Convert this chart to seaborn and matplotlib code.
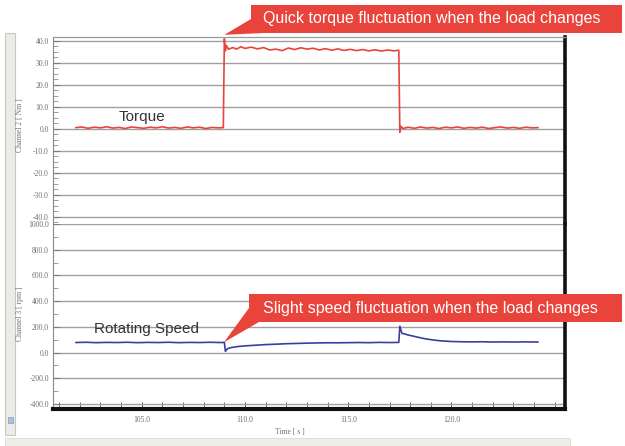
import numpy as np
import pandas as pd
import seaborn as sns
import matplotlib.pyplot as plt
from matplotlib.patches import Rectangle, Polygon
from matplotlib.ticker import MultipleLocator, FixedLocator, FormatStrFormatter

# Torque trace (Channel 2, Nm)
torque_t = [101.8, 102.1, 102.4, 102.7, 103.0, 103.3, 103.6, 103.9, 104.2, 104.5,
            104.8, 105.1, 105.4, 105.7, 106.0, 106.3, 106.6, 106.9, 107.2, 107.5,
            107.8, 108.1, 108.4, 108.7, 108.95,
            109.0, 109.05, 109.1, 109.2,
            109.4, 109.6, 109.8, 110.0, 110.3, 110.6, 110.9, 111.2, 111.5, 111.8,
            112.1, 112.4, 112.7, 113.0, 113.3, 113.6, 113.9, 114.2, 114.5, 114.8,
            115.1, 115.4, 115.7, 116.0, 116.3, 116.6, 116.9, 117.2, 117.45,
            117.5, 117.55, 117.65,
            117.9, 118.2, 118.5, 118.8, 119.1, 119.4, 119.7, 120.0, 120.3, 120.6,
            120.9, 121.2, 121.5, 121.8, 122.1, 122.4, 122.7, 123.0, 123.3, 123.6,
            123.9, 124.2]
torque_v = [0.6, 0.9, 0.3, 0.8, 0.5, 1.0, 0.4, 0.7, 0.2, 0.9,
            0.6, 0.3, 0.8, 0.5, 1.0, 0.4, 0.7, 0.3, 0.9, 0.5,
            0.8, 0.2, 0.7, 0.5, 0.6,
            41.0, 35.5, 38.0, 36.2,
            37.0, 36.3, 37.4, 36.6, 37.2, 36.4, 37.0, 35.9, 36.3, 35.6,
            36.8, 36.1, 36.9, 36.3, 36.7, 35.9, 36.5, 35.8, 36.4, 35.7,
            36.2, 35.6, 36.1, 35.5, 36.0, 35.4, 35.9, 35.5, 35.8,
            -1.5, 1.2, 0.2,
            0.8, 0.3, 0.9, 0.4, 0.7, 0.2, 0.8, 0.5, 0.9, 0.3,
            0.7, 0.4, 0.8, 0.2, 0.6, 0.9, 0.4, 0.7, 0.3, 0.8,
            0.5, 0.6]

# Rotating speed trace (Channel 3, rpm)
speed_t = [101.8, 102.3, 102.8, 103.3, 103.8, 104.3, 104.8, 105.3, 105.8, 106.3,
           106.8, 107.3, 107.8, 108.3, 108.8, 109.0,
           109.05, 109.15, 109.3, 109.6, 110.0, 110.5, 111.0, 111.5, 112.0, 112.5,
           113.0, 113.5, 114.0, 114.5, 115.0, 115.5, 116.0, 116.5, 117.0, 117.45,
           117.5, 117.6, 117.9, 118.3, 118.7, 119.1, 119.5, 120.0, 120.5, 121.0,
           121.5, 122.0, 122.5, 123.0, 123.5, 124.2]
speed_v = [78, 80, 77, 79, 78, 80, 77, 79, 78, 80,
           77, 79, 78, 80, 78, 79,
           10, 30, 38, 46, 52, 57, 62, 65, 69, 71,
           73, 75, 76, 76, 77, 78, 77, 79, 78, 79,
           205, 150, 137, 122, 108, 98, 91, 86, 84, 83,
           84, 82, 83, 82, 83, 82]

time_labels = [105.0, 110.0, 115.0, 120.0]

torque = pd.DataFrame({"t": torque_t, "v": torque_v})
speed = pd.DataFrame({"t": speed_t, "v": speed_v})

W, H = 625, 446
def fx(x):
    return x / W
def fy(y):
    return 1 - y / H

sns.set_style("white")
plt.rcParams['font.family'] = ['Liberation Sans', 'DejaVu Sans']
plt.rcParams['axes.unicode_minus'] = False

fig = plt.figure(figsize=(6.25, 4.46), dpi=100)

# window chrome of the logger software
fig.patches.append(Rectangle((fx(5), fy(435)), 10 / W, (435 - 33) / H, transform=fig.transFigure,
                             fc='#ebebe8', ec='#c8c8c2', lw=0.8))
fig.patches.append(Rectangle((fx(8), fy(423)), 5 / W, 6 / H, transform=fig.transFigure,
                             fc='#a9c2dd', ec='#7f9fc4', lw=0.5))
fig.patches.append(Rectangle((fx(5), fy(446)), 565 / W, 8 / H, transform=fig.transFigure,
                             fc='#eeede6', ec='#dcdbd2', lw=0.6))

ax1 = fig.add_axes([fx(53), fy(224), 512 / W, 187 / H])
ax2 = fig.add_axes([fx(53), fy(409), 512 / W, 185 / H], sharex=ax1)

red = '#e8443c'
blue = '#38409a'
sns.lineplot(data=torque, x="t", y="v", ax=ax1, color=red, lw=1.2, sort=False, estimator=None)
sns.lineplot(data=speed, x="t", y="v", ax=ax2, color=blue, lw=1.2, sort=False, estimator=None)

ax1.set_xlim(100.7, 125.5)
ax1.set_ylim(-43.2, 41.8)
ax2.set_ylim(-439, 1000)

for ax, major, minor in [(ax1, 10, 2.5), (ax2, 200, 100)]:
    ax.set_xlabel("")
    ax.set_ylabel("")
    ax.yaxis.set_major_locator(MultipleLocator(major))
    ax.yaxis.set_minor_locator(MultipleLocator(minor))
    ax.yaxis.set_major_formatter(FormatStrFormatter('%.1f'))
    ax.yaxis.grid(True, color='#a0a0a0', lw=1.0)
    ax.xaxis.grid(False)
    ax.tick_params(axis='y', which='both', direction='in', left=True, color='#777777',
                   labelcolor='#707070', pad=3)
    ax.tick_params(axis='y', which='major', length=5, width=0.6)
    ax.tick_params(axis='y', which='minor', length=3.5, width=0.5)
    for lab in ax.get_yticklabels():
        lab.set_fontfamily('Liberation Serif')
        lab.set_fontsize(5.5)
    ax.spines['left'].set_color('#888888')
    ax.spines['left'].set_linewidth(0.8)
    ax.spines['right'].set_color('#111111')
    ax.spines['right'].set_linewidth(2.6)

ax1.spines['bottom'].set_visible(False)
ax1.spines['top'].set_color('#9a9a9a')
ax1.spines['top'].set_linewidth(0.9)
ax1.tick_params(axis='x', which='both', bottom=False, labelbottom=False)

ax2.spines['top'].set_visible(False)
ax2.spines['bottom'].set_color('#111111')
ax2.spines['bottom'].set_linewidth(3.0)
ax2.xaxis.set_major_locator(FixedLocator(time_labels))
ax2.xaxis.set_minor_locator(MultipleLocator(1))
ax2.xaxis.set_major_formatter(FormatStrFormatter('%.1f'))
ax2.tick_params(axis='x', which='both', direction='in', bottom=True, color='#555555',
                labelcolor='#707070', pad=5)
ax2.tick_params(axis='x', which='major', length=5, width=0.7)
ax2.tick_params(axis='x', which='minor', length=5, width=0.6)
for lab in ax2.get_xticklabels():
    lab.set_fontfamily('Liberation Serif')
    lab.set_fontsize(5.5)

serif_small = dict(family='Liberation Serif', size=5.5, color='#707070')
fig.text(fx(20), fy(125), "Channel 2 [ Nm ]", rotation=90, ha='center', va='center', **serif_small)
fig.text(fx(20), fy(314), "Channel 3 [ rpm ]", rotation=90, ha='center', va='center', **serif_small)
fig.text(fx(290), fy(432), "Time [ s ]", ha='center', va='center', **serif_small)

# series labels
fig.text(fx(142), fy(117), "Torque", ha='center', va='center', fontsize=11, color='#333333')
fig.text(fx(147), fy(329), "Rotating Speed", ha='center', va='center', fontsize=11, color='#333333')

# red callouts
inv = fig.transFigure.inverted()
callouts = [
    ("Quick torque fluctuation when the load changes", (251, 5, 622, 33), (251, 19), (264, 33),
     ax1, (109.0, 42.8)),
    ("Slight speed fluctuation when the load changes", (249, 294, 622, 322), (249, 308), (259, 322),
     ax2, (108.98, 80)),
]
for text, (x0, y0, x1, y1), b1, b2, ax, tip in callouts:
    fig.patches.append(Rectangle((fx(x0), fy(y1)), (x1 - x0) / W, (y1 - y0) / H,
                                 transform=fig.transFigure, fc=red, ec='none'))
    tx, ty = inv.transform(ax.transData.transform(tip))
    fig.patches.append(Polygon([(fx(b1[0]), fy(b1[1])), (tx, ty), (fx(b2[0]), fy(b2[1]))],
                               closed=True, transform=fig.transFigure, fc=red, ec='none'))
    fig.text(fx((x0 + x1) / 2 - 5), fy((y0 + y1) / 2), text, ha='center', va='center',
             fontsize=11.5, color='white')

fig.savefig("out.png", dpi=100)
